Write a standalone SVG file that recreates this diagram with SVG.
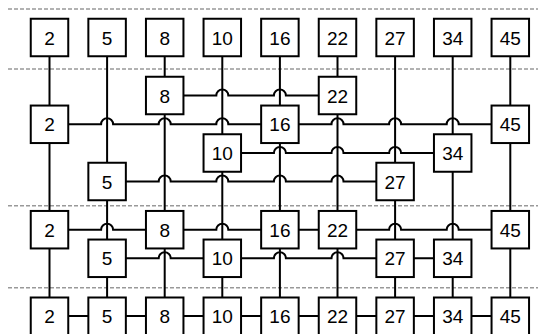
<svg xmlns="http://www.w3.org/2000/svg" width="538" height="334" viewBox="0 0 538 334">
<style>
.sep{stroke:#999;stroke-width:1.6;stroke-dasharray:4 2;fill:none}
.w{stroke:#000;stroke-width:2;fill:none}
.n rect{fill:#fff;stroke:#000;stroke-width:2}
.n text{font-family:"Liberation Sans",Arial,sans-serif;font-size:19px;text-anchor:middle;fill:#000}
</style>
<rect width="538" height="334" fill="#fff"/>
<g id="separators">
<line class="sep" x1="8" y1="9" x2="538" y2="9"/>
<line class="sep" x1="8" y1="69" x2="538" y2="69"/>
<line class="sep" x1="8" y1="205.7" x2="538" y2="205.7"/>
<line class="sep" x1="8" y1="287.7" x2="538" y2="287.7"/>
</g>
<g id="connectors">
<path class="w" d="M49.5 37.5V340M107.1 37.5V340M164.7 37.5V340M222.3 37.5V340M279.9 37.5V340M337.5 37.5V340M395.1 37.5V340M452.7 37.5V340M510.3 37.5V340"/>
<path class="w" d="M164.7 95.5H216.3A6 6 0 0 1 228.3 95.5H273.9A6 6 0 0 1 285.9 95.5H337.5"/>
<path class="w" d="M49.5 124.3H101.1A6 6 0 0 1 113.1 124.3H158.7A6 6 0 0 1 170.7 124.3H216.3A6 6 0 0 1 228.3 124.3H331.5A6 6 0 0 1 343.5 124.3H389.1A6 6 0 0 1 401.1 124.3H446.7A6 6 0 0 1 458.7 124.3H510.3"/>
<path class="w" d="M222.3 153H273.9A6 6 0 0 1 285.9 153H331.5A6 6 0 0 1 343.5 153H389.1A6 6 0 0 1 401.1 153H452.7"/>
<path class="w" d="M107.1 181.5H158.7A6 6 0 0 1 170.7 181.5H216.3A6 6 0 0 1 228.3 181.5H273.9A6 6 0 0 1 285.9 181.5H331.5A6 6 0 0 1 343.5 181.5H395.1"/>
<path class="w" d="M49.5 229.7H101.1A6 6 0 0 1 113.1 229.7H216.3A6 6 0 0 1 228.3 229.7H389.1A6 6 0 0 1 401.1 229.7H446.7A6 6 0 0 1 458.7 229.7H510.3"/>
<path class="w" d="M107.1 258.3H158.7A6 6 0 0 1 170.7 258.3H273.9A6 6 0 0 1 285.9 258.3H331.5A6 6 0 0 1 343.5 258.3H452.7"/>
<path class="w" d="M49.5 316H510.3"/>
</g>
<g id="nodes">
<g class="n" id="r0-2"><rect x="30.75" y="18.75" width="37.5" height="37.5"/><text x="49.5" y="44.5">2</text></g>
<g class="n" id="r0-5"><rect x="88.35" y="18.75" width="37.5" height="37.5"/><text x="107.1" y="44.5">5</text></g>
<g class="n" id="r0-8"><rect x="145.95" y="18.75" width="37.5" height="37.5"/><text x="164.7" y="44.5">8</text></g>
<g class="n" id="r0-10"><rect x="203.55" y="18.75" width="37.5" height="37.5"/><text x="222.3" y="44.5">10</text></g>
<g class="n" id="r0-16"><rect x="261.15" y="18.75" width="37.5" height="37.5"/><text x="279.9" y="44.5">16</text></g>
<g class="n" id="r0-22"><rect x="318.75" y="18.75" width="37.5" height="37.5"/><text x="337.5" y="44.5">22</text></g>
<g class="n" id="r0-27"><rect x="376.35" y="18.75" width="37.5" height="37.5"/><text x="395.1" y="44.5">27</text></g>
<g class="n" id="r0-34"><rect x="433.95" y="18.75" width="37.5" height="37.5"/><text x="452.7" y="44.5">34</text></g>
<g class="n" id="r0-45"><rect x="491.55" y="18.75" width="37.5" height="37.5"/><text x="510.3" y="44.5">45</text></g>

<g class="n" id="r1-8"><rect x="145.95" y="76.75" width="37.5" height="37.5"/><text x="164.7" y="102.5">8</text></g>
<g class="n" id="r1-22"><rect x="318.75" y="76.75" width="37.5" height="37.5"/><text x="337.5" y="102.5">22</text></g>

<g class="n" id="r2-2"><rect x="30.75" y="105.55" width="37.5" height="37.5"/><text x="49.5" y="131.3">2</text></g>
<g class="n" id="r2-16"><rect x="261.15" y="105.55" width="37.5" height="37.5"/><text x="279.9" y="131.3">16</text></g>
<g class="n" id="r2-45"><rect x="491.55" y="105.55" width="37.5" height="37.5"/><text x="510.3" y="131.3">45</text></g>

<g class="n" id="r3-10"><rect x="203.55" y="134.25" width="37.5" height="37.5"/><text x="222.3" y="160">10</text></g>
<g class="n" id="r3-34"><rect x="433.95" y="134.25" width="37.5" height="37.5"/><text x="452.7" y="160">34</text></g>

<g class="n" id="r4-5"><rect x="88.35" y="162.75" width="37.5" height="37.5"/><text x="107.1" y="188.5">5</text></g>
<g class="n" id="r4-27"><rect x="376.35" y="162.75" width="37.5" height="37.5"/><text x="395.1" y="188.5">27</text></g>

<g class="n" id="r5-2"><rect x="30.75" y="210.95" width="37.5" height="37.5"/><text x="49.5" y="236.7">2</text></g>
<g class="n" id="r5-8"><rect x="145.95" y="210.95" width="37.5" height="37.5"/><text x="164.7" y="236.7">8</text></g>
<g class="n" id="r5-16"><rect x="261.15" y="210.95" width="37.5" height="37.5"/><text x="279.9" y="236.7">16</text></g>
<g class="n" id="r5-22"><rect x="318.75" y="210.95" width="37.5" height="37.5"/><text x="337.5" y="236.7">22</text></g>
<g class="n" id="r5-45"><rect x="491.55" y="210.95" width="37.5" height="37.5"/><text x="510.3" y="236.7">45</text></g>

<g class="n" id="r6-5"><rect x="88.35" y="239.55" width="37.5" height="37.5"/><text x="107.1" y="265.3">5</text></g>
<g class="n" id="r6-10"><rect x="203.55" y="239.55" width="37.5" height="37.5"/><text x="222.3" y="265.3">10</text></g>
<g class="n" id="r6-27"><rect x="376.35" y="239.55" width="37.5" height="37.5"/><text x="395.1" y="265.3">27</text></g>
<g class="n" id="r6-34"><rect x="433.95" y="239.55" width="37.5" height="37.5"/><text x="452.7" y="265.3">34</text></g>

<g class="n" id="r7-2"><rect x="30.75" y="297.5" width="37.5" height="37.5"/><text x="49.5" y="323">2</text></g>
<g class="n" id="r7-5"><rect x="88.35" y="297.5" width="37.5" height="37.5"/><text x="107.1" y="323">5</text></g>
<g class="n" id="r7-8"><rect x="145.95" y="297.5" width="37.5" height="37.5"/><text x="164.7" y="323">8</text></g>
<g class="n" id="r7-10"><rect x="203.55" y="297.5" width="37.5" height="37.5"/><text x="222.3" y="323">10</text></g>
<g class="n" id="r7-16"><rect x="261.15" y="297.5" width="37.5" height="37.5"/><text x="279.9" y="323">16</text></g>
<g class="n" id="r7-22"><rect x="318.75" y="297.5" width="37.5" height="37.5"/><text x="337.5" y="323">22</text></g>
<g class="n" id="r7-27"><rect x="376.35" y="297.5" width="37.5" height="37.5"/><text x="395.1" y="323">27</text></g>
<g class="n" id="r7-34"><rect x="433.95" y="297.5" width="37.5" height="37.5"/><text x="452.7" y="323">34</text></g>
<g class="n" id="r7-45"><rect x="491.55" y="297.5" width="37.5" height="37.5"/><text x="510.3" y="323">45</text></g>
</g>
</svg>
